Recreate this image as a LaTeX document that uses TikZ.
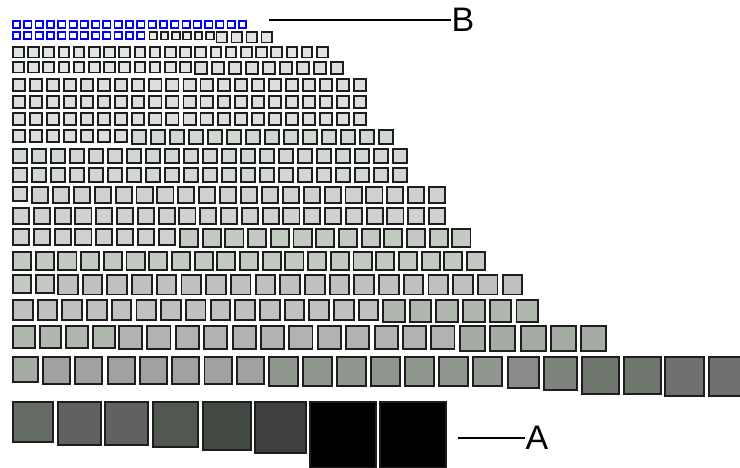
\documentclass[tikz,border=0pt]{standalone}
\usepackage{fontspec}
\setmainfont{Liberation Sans}
\definecolor{c0}{HTML}{E6EBE6}
\definecolor{c1}{HTML}{DFE5DF}
\definecolor{c2}{HTML}{DDDDDD}
\definecolor{c3}{HTML}{D1D8D1}
\definecolor{c4}{HTML}{D0D0D0}
\definecolor{c5}{HTML}{C2CAC2}
\definecolor{c6}{HTML}{C0C0C0}
\definecolor{c7}{HTML}{AFB7AF}
\definecolor{c8}{HTML}{B2B2B2}
\definecolor{c9}{HTML}{A3ABA3}
\definecolor{c10}{HTML}{A1A1A1}
\definecolor{c11}{HTML}{8F978F}
\definecolor{c12}{HTML}{8A8A8A}
\definecolor{c13}{HTML}{7C847C}
\definecolor{c14}{HTML}{6E766E}
\definecolor{c15}{HTML}{707070}
\definecolor{c16}{HTML}{656B65}
\definecolor{c17}{HTML}{616161}
\definecolor{c18}{HTML}{505850}
\definecolor{c19}{HTML}{434A43}
\definecolor{c20}{HTML}{404040}
\definecolor{c21}{HTML}{000000}
\definecolor{edge}{HTML}{1E1E1E}
\definecolor{bluesq}{HTML}{0000FF}
\begin{document}
\begin{tikzpicture}[x=1pt,y=-1pt,
  sq/.style={draw=edge, line width=1.9pt},
  bsq/.style={draw=bluesq, line width=1.6pt, fill=white},
  lbl/.style={font=\fontsize{34}{34}\selectfont, inner sep=0pt},
  conn/.style={line width=2.8pt, draw=black}]
\useasboundingbox (0,0) rectangle (740,468);
\begin{scope}
\clip (0,0) rectangle (740,468);
% blue squares
\foreach \xa/\p/\n/\s/\ya in {12/11.3/21/9/20, 12/11.3/12/9/31}{
  \foreach \i in {1,...,\n}{
    \draw[bsq] ({\xa+(\i-1)*\p+0.8},{\ya+0.8}) rectangle ++({\s-1.6},{\s-1.6});
  }
}
% filled squares
\foreach \xa/\p/\n/\s/\ya/\c in {
  148.5/11.3/6/9.5/31/c0,
  215.5/15/4/12.5/31/c1,
  12/15.2/21/12.5/46/c1,
  12/15.2/12/12.5/61/c1,
  194/17/9/14/61/c2,
  12/17.05/21/14/78/c2,
  12/17.05/21/14/95/c2,
  12/17.05/21/14/112/c2,
  12/17.05/7/14/129/c2,
  131/19/14/16/129/c3,
  12/19/21/16/148/c3,
  12/19/21/16/167/c3,
  12/19/1/16/186/c3,
  31/20.9/20/18/186/c4,
  12/20.8/21/18/207/c4,
  12/20.8/8/18/228/c4,
  179/22.7/13/20/228/c5,
  12/22.7/21/20/251/c5,
  12/22.7/2/20/274/c5,
  57/24.7/19/21.5/274/c6,
  12/24.7/15/21.5/299/c6,
  382/26.7/6/23.5/299/c7,
  12/26.7/4/23.5/325/c7,
  118/28.4/12/25/325/c8,
  459/30.3/5/27/325/c9,
  12/0/1/27/356/c9,
  42/32.3/7/29/356/c10,
  268/34/7/31/356/c11,
  507/0/1/33/356/c12,
  543/0/1/35/356/c13,
  581/42/2/39/356/c14,
  664/44/2/41/356/c15,
  12/0/1/42/401/c16,
  57/0/1/45/401/c17,
  104/0/1/45/401/c17,
  152/0/1/47/401/c18,
  202/0/1/50/401/c19,
  254/0/1/53/401/c20,
  309/70/2/68/401/c21}{
  \foreach \i in {1,...,\n}{
    \draw[sq,fill=\c] ({\xa+(\i-1)*\p+0.95},{\ya+0.95}) rectangle ++({\s-1.9},{\s-1.9});
  }
}
\end{scope}
% labels and connectors
\node[lbl] (B) at (463,20) {B};
\coordinate (Bs) at (269,20);
\draw[conn] (Bs) -- (B.west);
\node[lbl] (A) at (537,438) {A};
\coordinate (As) at (458,438);
\draw[conn] (As) -- (A.west);
\end{tikzpicture}
\end{document}
